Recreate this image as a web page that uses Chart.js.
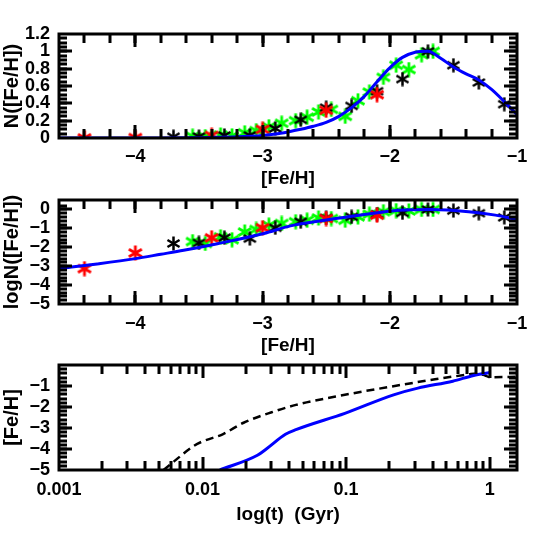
<!DOCTYPE html>
<html><head><meta charset="utf-8">
<script src="https://cdn.jsdelivr.net/npm/chart.js@4.4.1/dist/chart.umd.min.js"></script>
<style>
html,body{margin:0;padding:0;background:#fff;}
.wrap{position:relative;width:545px;height:545px;background:#fff;}
canvas{position:absolute;left:0;top:0;}
</style></head>
<body><div class="wrap">
<canvas id="c1" width="545" height="545"></canvas>
<canvas id="c2" width="545" height="545"></canvas>
<canvas id="c3" width="545" height="545"></canvas>
</div>
<script>
// ---------- Panel 1 : N([Fe/H]) ----------
const p1ModelFe = [-4.6,-4.4,-4.2,-4.0,-3.8,-3.6,-3.4,-3.2,-3.0,-2.9,-2.8,-2.7,-2.6,-2.5,-2.4,-2.3,-2.2,-2.1,-2.0,-1.9,-1.8,-1.7,-1.6,-1.5,-1.4,-1.3,-1.2,-1.1,-1.0];
const p1ModelN  = [0,0,0,0,0.001,0.003,0.007,0.014,0.03,0.045,0.07,0.1,0.135,0.18,0.25,0.35,0.48,0.65,0.81,0.93,0.99,1.0,0.92,0.82,0.74,0.67,0.56,0.42,0.27];
const blackFe   = [-3.7,-3.5,-3.3,-3.1,-2.9,-2.7,-2.5,-2.3,-2.1,-1.9,-1.7,-1.5,-1.3,-1.1];
const blackN    = [0.015,0.017,0.03,0.03,0.11,0.21,0.35,0.37,0.54,0.68,1.0,0.84,0.64,0.39];
const redFe     = [-4.4,-4.0,-3.4,-3.0,-2.5,-2.1];
const redN      = [0.001,0.005,0.03,0.1,0.32,0.5];
const greenFe   = [-3.55,-3.45,-3.33,-3.24,-3.14,-3.05,-2.95,-2.85,-2.74,-2.65,-2.56,-2.46,-2.35,-2.25,-2.16,-2.05,-1.95,-1.85,-1.75,-1.66];
const greenN    = [0.02,0.016,0.035,0.025,0.06,0.085,0.13,0.17,0.2,0.24,0.3,0.33,0.25,0.43,0.53,0.7,0.84,0.79,0.96,1.0];

// ---------- Panel 2 : logN([Fe/H]) ----------
const p2ModelFe   = [-4.6,-4.3,-4.0,-3.8,-3.62,-3.355,-2.99,-2.78,-2.51,-2.2,-1.93,-1.67,-1.38,-1.17,-1.0];
const p2ModelLogN = [-3.13,-2.88,-2.6,-2.37,-2.16,-1.81,-1.27,-0.87,-0.57,-0.27,-0.04,0.0,-0.12,-0.3,-0.53];
const blackLogN   = [-1.8,-1.77,-1.49,-1.54,-0.97,-0.65,-0.45,-0.39,-0.25,-0.18,0.0,-0.06,-0.2,-0.42];
const redLogN     = [-3.13,-2.3,-1.5,-0.97,-0.48,-0.3];
const greenLogN   = [-1.7,-1.8,-1.45,-1.6,-1.19,-1.06,-0.83,-0.74,-0.65,-0.57,-0.45,-0.48,-0.57,-0.39,-0.25,-0.12,-0.06,-0.08,0.0,0.0];

// ---------- Panel 3 : [Fe/H] vs t ----------
const solidT   = [0.0132,0.0241,0.0278,0.0378,0.0447,0.098,0.214,0.316,0.553,0.773,1.0];
const solidFe  = [-5.0,-4.3,-4.0,-3.3,-3.08,-2.3,-1.42,-1.1,-0.77,-0.5,-0.36];
const dashT    = [0.00535,0.0063,0.0087,0.0099,0.0138,0.0193,0.0303,0.0447,0.098,0.24,0.416,0.71,0.81,0.93,1.0,1.55];
const dashFe   = [-5.0,-4.6,-3.85,-3.65,-3.3,-2.75,-2.25,-1.9,-1.42,-0.95,-0.68,-0.45,-0.4,-0.5,-0.58,-0.56];

// tick labels
const feTicks   = [-4,-3,-2,-1];
const nTicks    = [0,0.2,0.4,0.6,0.8,1,1.2];
const logNTicks = [-5,-4,-3,-2,-1,0];
const p3YTicks  = [-5,-4,-3,-2,-1];
const tTicks    = [0.001,0.01,0.1,1];

const FONT = 'Liberation Sans';
Chart.defaults.font.family = FONT;
Chart.defaults.color = '#000';

function pts(xs, ys){ return xs.map((x,i)=>({x:x, y:ys[i]})); }
function minus(v){ return String(v).replace('-', '\u2212'); }

function asterisk(color, size, lw){
  const c = document.createElement('canvas'); c.width = size; c.height = size;
  const g = c.getContext('2d'); g.strokeStyle = color; g.lineWidth = lw;
  const r = size/2 - 0.5, cx = size/2, cy = size/2;
  [90,30,150].forEach(a=>{ const t=a*Math.PI/180; g.beginPath();
    g.moveTo(cx - r*Math.cos(t), cy - r*Math.sin(t)); g.lineTo(cx + r*Math.cos(t), cy + r*Math.sin(t)); g.stroke(); });
  return c;
}
const starBlack = asterisk('#000', 15, 2.5);
const starRed   = asterisk('#ff0000', 16, 2.8);
const starGreen = asterisk('#00ff00', 16, 2.8);

function range(a,b,s){ const out=[]; for(let i=0;a+i*s<=b+1e-9;i++) out.push(+(a+i*s).toFixed(4)); return out; }

const logMinor = [];
[0.001,0.01,0.1,1].forEach(d=>{ for(let k=2;k<=9;k++) logMinor.push(d*k); });

const TICKS = {
  c1:{xMajor:feTicks, xMinor:range(-4.6,-1,0.2), yMajor:nTicks, yMinor:range(0,1.2,0.05)},
  c2:{xMajor:feTicks, xMinor:range(-4.6,-1,0.2), yMajor:logNTicks, yMinor:range(-5,0.5,0.2)},
  c3:{xMajor:tTicks, xMinor:logMinor, yMajor:p3YTicks, yMinor:range(-5,0,0.2)}
};
const framePlugin = {
  id:'frameTicks',
  afterDraw(chart){
    const t = TICKS[chart.canvas.id];
    const ctx = chart.ctx, a = chart.chartArea, xs = chart.scales.x, ys = chart.scales.y;
    ctx.save();
    ctx.fillStyle = '#000000';
    ctx.globalAlpha = 1;
    const xt = (vals,len)=>{ for (const v of vals){ const p = Math.round(xs.getPixelForValue(v));
      if (p > a.left+2 && p < a.right-2) { ctx.fillRect(p-1.5,a.bottom-len,3,len); ctx.fillRect(p-1.5,a.top,3,len); } } };
    const yt = (vals,len)=>{ for (const v of vals){ const p = Math.round(ys.getPixelForValue(v));
      if (p > a.top+2 && p < a.bottom-2) { ctx.fillRect(a.left,p-1.5,len,3); ctx.fillRect(a.right-len,p-1.5,len,3); } } };
    xt(t.xMinor,9); xt(t.xMajor,13); yt(t.yMinor,8); yt(t.yMajor,13);
    ctx.lineWidth = 3; ctx.strokeStyle = '#000';
    ctx.strokeRect(a.left,a.top,a.right-a.left,a.bottom-a.top);
    ctx.restore();
  }
};

function makeChart(id, datasets, cfg){
  return new Chart(document.getElementById(id), {
    type:'scatter',
    data:{datasets},
    plugins:[framePlugin],
    options:{
      responsive:false, animation:false, devicePixelRatio:1,
      layout:{padding:{left:0,right:28,top:cfg.top,bottom:cfg.padBottom}},
      plugins:{legend:{display:false}, tooltip:{enabled:false}},
      scales:{
        x:{type:cfg.xType||'linear', min:cfg.xMin, max:cfg.xMax,
          grid:{display:false,drawTicks:false}, border:{display:false},
          afterBuildTicks:s=>{ s.ticks = cfg.xTicks.map(v=>({value:v})); },
          afterFit:s=>{ s.height = cfg.xAxisH; },
          ticks:{autoSkip:false, maxRotation:0, padding:cfg.xTickPad, font:{size:18,weight:'bold'},
            callback:(v)=>cfg.xFmt(v)},
          title:{display:true, text:cfg.xTitle, padding:0, font:{size:19,weight:'bold',lineHeight:1.2}}},
        y:{type:'linear', min:cfg.yMin, max:cfg.yMax,
          grid:{display:false,drawTicks:false}, border:{display:false},
          afterBuildTicks:s=>{ s.ticks = cfg.yTicks.map(v=>({value:v})); },
          afterFit:s=>{ s.width = 59; },
          ticks:{autoSkip:false, padding:9, font:{size:18,weight:'bold'}, callback:(v)=>minus(v)},
          title:{display:true, text:cfg.yTitle, padding:{top:0,bottom:0}, font:{size:20,weight:'bold',lineHeight:1.2}}}
      }
    }
  });
}

const markerDs = (xs,ys,img,order)=>({data:pts(xs,ys), pointStyle:img, pointRadius:7, showLine:false, order:order});
const lineDs = (xs,ys,color,dash,w,order)=>({data:pts(xs,ys), showLine:true, borderColor:color, borderWidth:w,
  borderDash:dash, pointRadius:0, cubicInterpolationMode:'monotone', order:order});

makeChart('c1', [
  lineDs(p1ModelFe,p1ModelN,'#0000ff',[],3,0),
  markerDs(greenFe,greenN,starGreen,3),
  markerDs(blackFe,blackN,starBlack,2),
  markerDs(redFe,redN,starRed,1)
], {top:34, padBottom:355, xAxisH:52, xTickPad:8, xMin:-4.6, xMax:-1, yMin:0, yMax:1.2,
  xTicks:feTicks, yTicks:nTicks, xFmt:minus, xTitle:'[Fe/H]', yTitle:'N([Fe/H])'});

makeChart('c2', [
  lineDs(p2ModelFe,p2ModelLogN,'#0000ff',[],3,0),
  markerDs(greenFe,greenLogN,starGreen,3),
  markerDs(blackFe,blackLogN,starBlack,2),
  markerDs(redFe,redLogN,starRed,1)
], {top:200, padBottom:188, xAxisH:53, xTickPad:9, xMin:-4.6, xMax:-1, yMin:-5, yMax:0.5,
  xTicks:feTicks, yTicks:logNTicks, xFmt:minus, xTitle:'[Fe/H]', yTitle:'logN([Fe/H])'});

makeChart('c3', [
  lineDs(dashT,dashFe,'#000',[8,5],2.5,1),
  lineDs(solidT,solidFe,'#0000ff',[],3,0)
], {top:365, padBottom:19, xAxisH:56, xTickPad:9, xType:'logarithmic', xMin:0.001, xMax:1.55, yMin:-5, yMax:0,
  xTicks:tTicks, yTicks:p3YTicks, xFmt:(v)=>String(v), xTitle:'log(t)  (Gyr)', yTitle:'[Fe/H]'});
</script>
</body></html>
